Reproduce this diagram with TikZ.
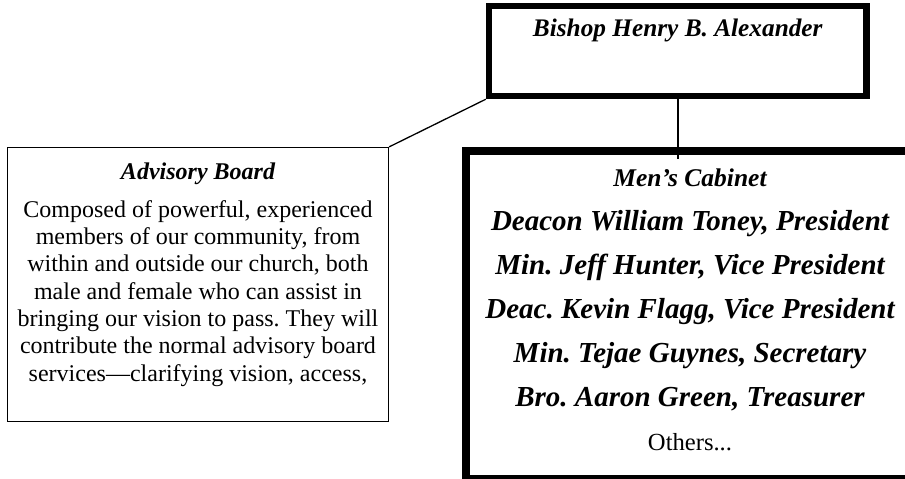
\documentclass[tikz,border=0pt]{standalone}
\usepackage{fontspec}
\setmainfont{Liberation Serif}
\frenchspacing
\tikzset{
  box/.style={draw, rectangle, inner sep=0pt},
  title/.style={font=\bfseries\itshape, align=center, anchor=base}
}
\begin{document}
\begin{tikzpicture}[x=1pt, y=-1pt]
      \path[use as bounding box] (0,0) rectangle (905,479);
      \clip (0,0) rectangle (905,479);

      % the three boxes
      \node[box, line width=6.5pt, minimum width=377.5pt, minimum height=90pt] (bishop) at (677.75, 51) {};
      \node[box, line width=1.2pt, minimum width=381pt, minimum height=274pt] (board) at (198, 284.5) {};
      \node[box, line width=8pt, minimum width=448pt, minimum height=328pt] (cabinet) at (690, 315) {};

      % texts (base = last line)
      \node[title, font=\fontsize{25.3}{30}\selectfont\bfseries\itshape] (bishoptxt) at (677.75, 36) {Bishop Henry B. Alexander};
      \node[anchor=base, align=center, font=\fontsize{24}{27.3}\selectfont] (boardtxt) at (198, 381) {%
        {\bfseries\itshape Advisory Board}\\[10.7pt]
        Composed of powerful, experienced\\
        members of our community, from\\
        within and outside our church, both\\
        male and female who can assist in\\
        bringing our vision to pass. They will\\
        contribute the normal advisory board\\
        services—clarifying vision, access,};
      \node[anchor=base, align=center, font=\fontsize{29}{44}\selectfont\bfseries\itshape] (cabinettxt) at (690, 450) {%
        {\fontsize{25.5}{44}\selectfont Men’s Cabinet}\\
        Deacon William Toney, President\\
        Min. Jeff Hunter, Vice President\\
        Deac. Kevin Flagg, Vice President\\
        Min. Tejae Guynes, Secretary\\
        Bro. Aaron Green, Treasurer\\
        {\fontsize{24.6}{44}\selectfont\normalfont Others...}};

      % connectors
      \draw[line width=1.3pt] (board.north east) -- (bishop.south west);
      \draw[line width=2pt] (bishop.south) -- ([yshift=-12pt]bishop.south |- cabinet.north);
    \end{tikzpicture}
\end{document}
